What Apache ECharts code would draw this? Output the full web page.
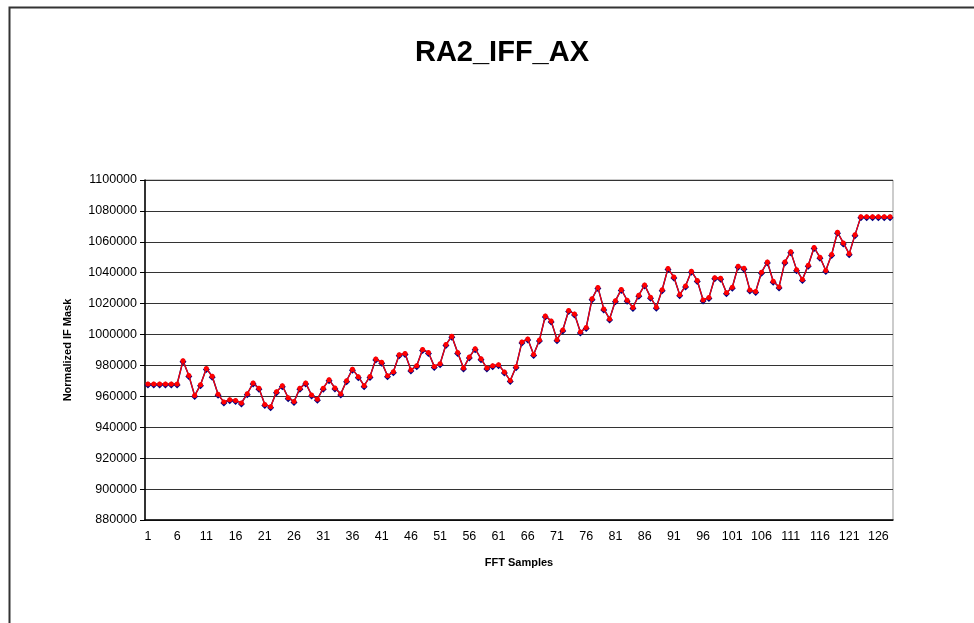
<!DOCTYPE html>
<html>
<head>
<meta charset="utf-8">
<title>RA2_IFF_AX</title>
<script src="https://cdn.jsdelivr.net/npm/echarts@6/dist/echarts.min.js"></script>
<style>
  html, body { margin: 0; padding: 0; background: #fff; }
  #chart { width: 974px; height: 623px; }
</style>
</head>
<body>
<div id="chart"></div>
<script>
// FFT sample numbers 1..128
const samples = Array.from({ length: 128 }, (_, i) => String(i + 1))

// normalized IF mask values
const maskValues = [
  968000, 968000, 968000, 968000, 968000, 968000, 983000, 973500, 960500, 967500,
  978000, 973000, 961300, 956300, 957800, 957400, 955700, 961700, 968600, 965200,
  954800, 953300, 963000, 966900, 959100, 956600, 965200, 968600, 960900, 958100,
  965300, 970800, 965400, 961600, 970100, 977600, 972700, 966900, 972900, 984100,
  982000, 973300, 975900, 986900, 987700, 977000, 979800, 990300, 988400, 979400,
  981100, 993500, 998900, 988400, 978300, 985400, 990800, 984300, 978300, 979800,
  980500, 975700, 970200, 979200, 995100, 997100, 987100, 996400, 1012000, 1008800,
  996700, 1003000, 1015500, 1013300, 1001600, 1004500, 1023100, 1030500, 1016600, 1010100,
  1021800, 1029200, 1022200, 1017500, 1025500, 1032000, 1024200, 1017700, 1029000, 1042800,
  1037200, 1025800, 1031400, 1041000, 1035000, 1022400, 1023900, 1036700, 1036400, 1027000,
  1030600, 1044200, 1042900, 1028900, 1027800, 1040300, 1047000, 1034500, 1030800, 1047000,
  1053500, 1042000, 1035600, 1044900, 1056300, 1050000, 1041400, 1051800, 1066200, 1059300,
  1052200, 1064500, 1076300, 1076300, 1076300, 1076300, 1076300, 1076300
]

const font = 'Arial, "Liberation Sans", sans-serif'

const myChart = echarts.init(document.getElementById('chart'))

const option = {
  animation: false,
  backgroundColor: '#fff',
  title: {
    text: 'RA2_IFF_AX',
    left: 497,
    top: 33,
    textAlign: 'center',
    textStyle: { fontFamily: font, fontSize: 29, fontWeight: 'bold', color: '#000' }
  },
  // outer chart frame
  graphic: [
    {
      type: 'rect',
      shape: { x: 9.5, y: 7.5, width: 1000, height: 700 },
      style: { fill: 'none', stroke: '#333', lineWidth: 2 },
      silent: true
    }
  ],
  grid: {
    left: 145,
    right: 81,
    top: 180,
    bottom: 103,
    show: true,
    borderColor: '#999',
    borderWidth: 1
  },
  xAxis: {
    type: 'category',
    data: samples,
    boundaryGap: true,
    name: 'FFT Samples',
    nameLocation: 'middle',
    nameGap: 37,
    nameTextStyle: { fontFamily: font, fontSize: 11, fontWeight: 'bold', color: '#000' },
    axisLine: { lineStyle: { color: '#000', width: 1.5 } },
    axisTick: { interval: 0, length: 4, lineStyle: { color: '#000' } },
    axisLabel: { interval: 4, margin: 10, fontFamily: font, fontSize: 12.5, color: '#000' },
    splitLine: { show: false }
  },
  yAxis: {
    type: 'value',
    min: 880000,
    max: 1100000,
    interval: 20000,
    name: 'Normalized IF Mask',
    nameLocation: 'middle',
    nameRotate: 90,
    nameGap: 72,
    nameTextStyle: { fontFamily: font, fontSize: 11, fontWeight: 'bold', color: '#000' },
    axisLine: { show: true, lineStyle: { color: '#000', width: 1.5 } },
    axisTick: { show: true, length: 5, lineStyle: { color: '#000' } },
    axisLabel: {
      margin: 8,
      fontFamily: font,
      fontSize: 12.5,
      color: '#000',
      formatter: v => String(v)
    },
    splitLine: { show: true, lineStyle: { color: '#333', width: 1 } }
  },
  series: [
    {
      name: 'blue',
      type: 'line',
      data: maskValues,
      symbol: 'diamond',
      symbolSize: 7,
      symbolOffset: [0, 1],
      showAllSymbol: true,
      lineStyle: { color: '#000080', width: 1.5 },
      itemStyle: { color: '#000080' },
      z: 2
    },
    {
      name: 'red',
      type: 'line',
      data: maskValues,
      symbol: 'circle',
      symbolSize: 5,
      showAllSymbol: true,
      lineStyle: { color: '#ff0000', width: 1.2 },
      itemStyle: { color: '#ff0000' },
      z: 3
    }
  ]
}

myChart.setOption(option)
</script>
</body>
</html>
